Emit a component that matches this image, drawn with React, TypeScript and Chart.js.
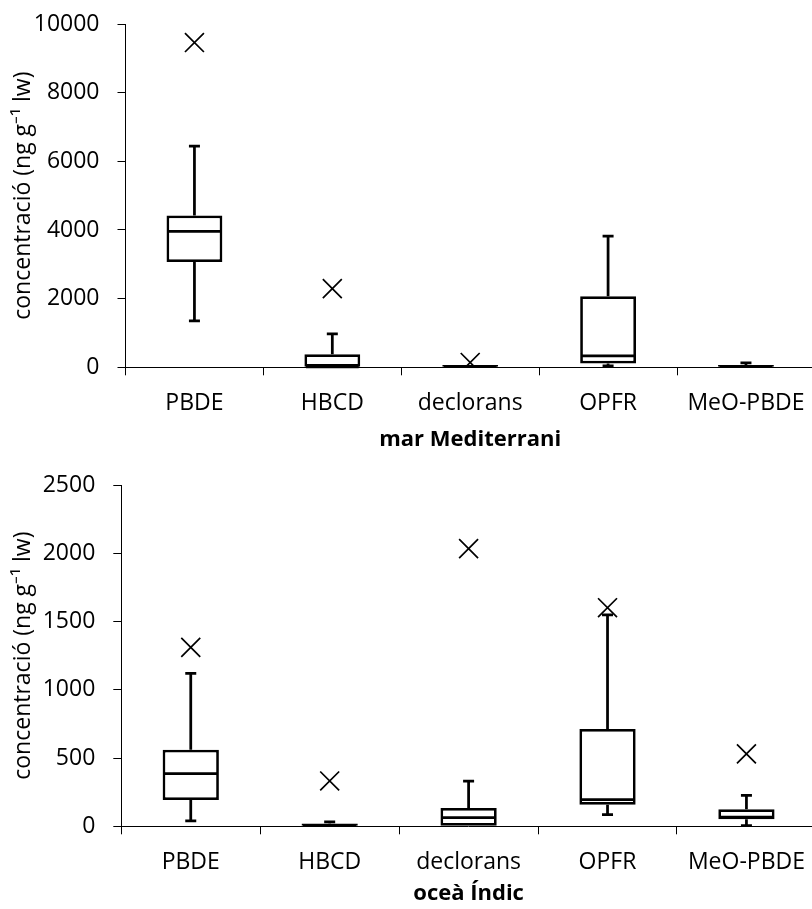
import React, { useEffect, useRef } from 'react';
import { Chart, registerables } from 'chart.js';

Chart.register(...registerables);

// ---------- data ----------
const categories = ['PBDE', 'HBCD', 'declorans', 'OPFR', 'MeO-PBDE'];

// mar Mediterrani
const medMin = [1350, 0, 0, 40, 0];
const medQ1 = [3070, 0, 0, 110, 0];
const medMedian = [3960, 10, 20, 330, 30];
const medQ3 = [4420, 380, 70, 2070, 70];
const medMax = [6440, 970, 80, 3820, 130];
const medOutlier = [9460, 2290, 140, null, null];
const medTicks = { min: 0, max: 10000, step: 2000 };

// oceà Índic
const indMin = [39, 0, 0, 85, 5];
const indQ1 = [193, 0, 0, 158, 51];
const indMedian = [385, 5, 63, 195, 68];
const indQ3 = [561, 20, 134, 713, 125];
const indMax = [1121, 33, 330, 1548, 227];
const indOutlier = [1311, 332, 2034, 1601, 530];
const indTicks = { min: 0, max: 2500, step: 500 };

const yTitle = 'concentració (ng g\u207B\u00B9 lw)';
const FONT = "'Open Sans', sans-serif";

function makeBoxPlugin(mins: number[], medians: number[], maxs: number[]) {
  return {
    id: 'boxWhiskers',
    afterDatasetDraw(chart: any, args: any) {
      if (args.index !== 0) return;
      const meta = chart.getDatasetMeta(0);
      const ys = chart.scales.y;
      const ctx = chart.ctx;
      ctx.save();
      ctx.strokeStyle = '#000';
      ctx.lineWidth = 2.75;
      ctx.lineCap = 'butt';
      meta.data.forEach((bar: any, i: number) => {
        const p = bar.getProps(['x', 'y', 'base', 'width'], true);
        const x = p.x;
        const half = p.width / 2;
        const top = Math.min(p.y, p.base);
        const bottom = Math.max(p.y, p.base);
        const yMax = ys.getPixelForValue(maxs[i]);
        const yMin = ys.getPixelForValue(mins[i]);
        const yMed = ys.getPixelForValue(medians[i]);
        const cap = 5.5;
        ctx.beginPath();
        if (yMax < top - 0.5) {
          ctx.moveTo(x, top);
          ctx.lineTo(x, yMax);
          ctx.moveTo(x - cap, yMax);
          ctx.lineTo(x + cap, yMax);
        }
        if (yMin > bottom + 0.5) {
          ctx.moveTo(x, bottom);
          ctx.lineTo(x, yMin);
          ctx.moveTo(x - cap, yMin);
          ctx.lineTo(x + cap, yMin);
        }
        ctx.moveTo(x - half + 1.5, yMed);
        ctx.lineTo(x + half - 1.5, yMed);
        ctx.stroke();
      });
      ctx.restore();
    },
  };
}

function buildConfig(
  q1: number[], q3: number[], mins: number[], medians: number[], maxs: number[],
  outliers: (number | null)[], ticks: { min: number; max: number; step: number },
  xTitle: string, layout: { top: number; yWidth: number; xHeight: number }
): any {
  return {
    type: 'bar',
    data: {
      labels: categories,
      datasets: [
        {
          type: 'bar',
          data: categories.map((_, i) => [q1[i], q3[i]]),
          backgroundColor: '#ffffff',
          borderColor: '#000000',
          borderWidth: 2.75,
          borderSkipped: false,
          barPercentage: 0.405,
          categoryPercentage: 1.0,
        },
        {
          type: 'line',
          data: outliers,
          showLine: false,
          pointStyle: 'crossRot',
          pointRadius: 13.4,
          pointBorderWidth: 1.7,
          pointBorderColor: '#000000',
          pointBackgroundColor: '#000000',
        },
      ],
    },
    options: {
      responsive: false,
      maintainAspectRatio: false,
      animation: false,
      events: [],
      layout: { padding: { top: layout.top, right: 0, left: 0, bottom: 0 } },
      plugins: { legend: { display: false }, tooltip: { enabled: false } },
      scales: {
        x: {
          type: 'category',
          offset: true,
          grid: { drawOnChartArea: false, drawTicks: true, tickLength: 8, color: '#000', offset: true },
          border: { color: '#000', width: 1 },
          ticks: { color: '#000', font: { family: FONT, size: 23 }, padding: 14, maxRotation: 0, autoSkip: false },
          title: {
            display: true,
            text: xTitle,
            color: '#000',
            font: { family: FONT, size: 22, weight: 'bold' },
            padding: { top: 0, bottom: 2 },
          },
          afterFit: (scale: any) => {
            scale.height = layout.xHeight;
            scale.paddingLeft = 0;
            scale.paddingRight = 0;
          },
        },
        y: {
          min: ticks.min,
          max: ticks.max,
          grid: { drawOnChartArea: false, drawTicks: true, tickLength: 8, color: '#000' },
          border: { color: '#000', width: 1 },
          ticks: {
            stepSize: ticks.step,
            color: '#000',
            font: { family: FONT, size: 23 },
            padding: 18,
            callback: (v: any) => String(v),
          },
          title: {
            display: true,
            text: yTitle,
            color: '#000',
            font: { family: FONT, size: 23 },
            padding: { top: 10, bottom: 0 },
          },
          afterFit: (scale: any) => {
            scale.width = layout.yWidth;
            scale.paddingTop = 0;
            scale.paddingBottom = 0;
          },
        },
      },
    },
    plugins: [makeBoxPlugin(mins, medians, maxs)],
  };
}

export default function App() {
  const topRef = useRef<HTMLCanvasElement | null>(null);
  const botRef = useRef<HTMLCanvasElement | null>(null);

  useEffect(() => {
    const c1 = new Chart(
      topRef.current as HTMLCanvasElement,
      buildConfig(medQ1, medQ3, medMin, medMedian, medMax, medOutlier, medTicks, 'mar Mediterrani',
        { top: 24, yWidth: 125.5, xHeight: 87.7 })
    );
    const c2 = new Chart(
      botRef.current as HTMLCanvasElement,
      buildConfig(indQ1, indQ3, indMin, indMedian, indMax, indOutlier, indTicks, 'oceà Índic',
        { top: 30, yWidth: 121.3, xHeight: 82.7 })
    );
    return () => {
      c1.destroy();
      c2.destroy();
    };
  }, []);

  return (
    <div style={{ position: 'fixed', left: 0, top: 0, width: 812, height: 909, overflow: 'hidden', background: '#fff' }}>
      <canvas ref={topRef} width={830} height={455} style={{ position: 'absolute', left: 0, top: 0, width: 830, height: 455 }} />
      <canvas ref={botRef} width={831} height={454} style={{ position: 'absolute', left: 0, top: 455, width: 831, height: 454 }} />
    </div>
  );
}
